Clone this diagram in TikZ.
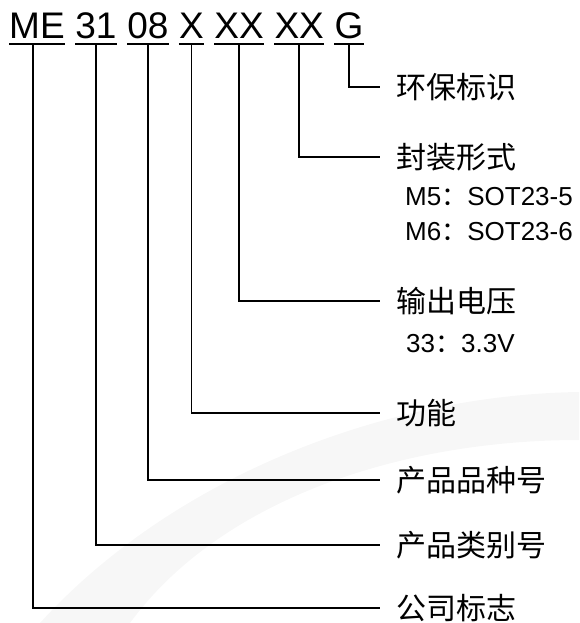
\documentclass[tikz,border=0pt]{standalone}
\usepackage{fontspec}
\setmainfont{Liberation Sans}
\newfontfamily\cjk{Noto Sans CJK SC}
\usetikzlibrary{positioning}
\tikzset{
  code/.style={inner xsep=0pt, inner ysep=5pt, text depth=0pt, font=\fontsize{37}{37}\selectfont},
  uline/.style={line width=2.5pt},
  conn/.style={line width=1.5pt},
  lbl/.style={anchor=west, inner xsep=16pt, inner ysep=0pt, font=\cjk\fontsize{30}{30}\selectfont},
  sub/.style={anchor=west, inner sep=0pt, font=\fontsize{26}{26}\selectfont}
}

\begin{document}
\begin{tikzpicture}[x=1pt,y=-1pt]
\useasboundingbox (0,0) rectangle (579,623);
% faint watermark
\fill[black!3] (40,623) .. controls (170,480) and (380,395) .. (579,392)
  -- (579,440) .. controls (400,440) and (220,500) .. (130,623) -- cycle;
% part number
\node[code, anchor=south west] (me) at (9,44) {ME};
\node[code, base right=10.3pt of me] (n31) {31};
\node[code, base right=10.3pt of n31] (n08) {08};
\node[code, base right=10.3pt of n08] (x) {X};
\node[code, base right=10.3pt of x] (xx) {XX};
\node[code, base right=10.3pt of xx] (xxb) {XX};
\node[code, base right=10.3pt of xxb] (g) {G};
\foreach \n in {me,n31,n08,x,xx,xxb,g} \draw[uline] (\n.south west) -- (\n.south east);
% labels
\foreach \n/\y/\t in {huanbao/87/环保标识, fengzhuang/157/封装形式, shuchu/301/输出电压,
  gongneng/413/功能, pinzhong/480/产品品种号, leibie/545/产品类别号, gongsi/608/公司标志}
  \node[lbl] (\n) at (380,\y) {\t};
\node[sub] (m5) at (405,197) {M5{\cjk ：}SOT23-5};
\node[sub] (m6) at (405,232) {M6{\cjk ：}SOT23-6};
\node[sub] (v33) at (406,344) {33{\cjk ：}3.3V};
% connectors
\draw[conn] ([xshift=-4pt]me.south) |- (gongsi.west);
\foreach \a/\b in {n31/leibie, n08/pinzhong, x/gongneng, xx/shuchu, xxb/fengzhuang, g/huanbao}
  \draw[conn] (\a.south) |- (\b.west);
\end{tikzpicture}
\end{document}
